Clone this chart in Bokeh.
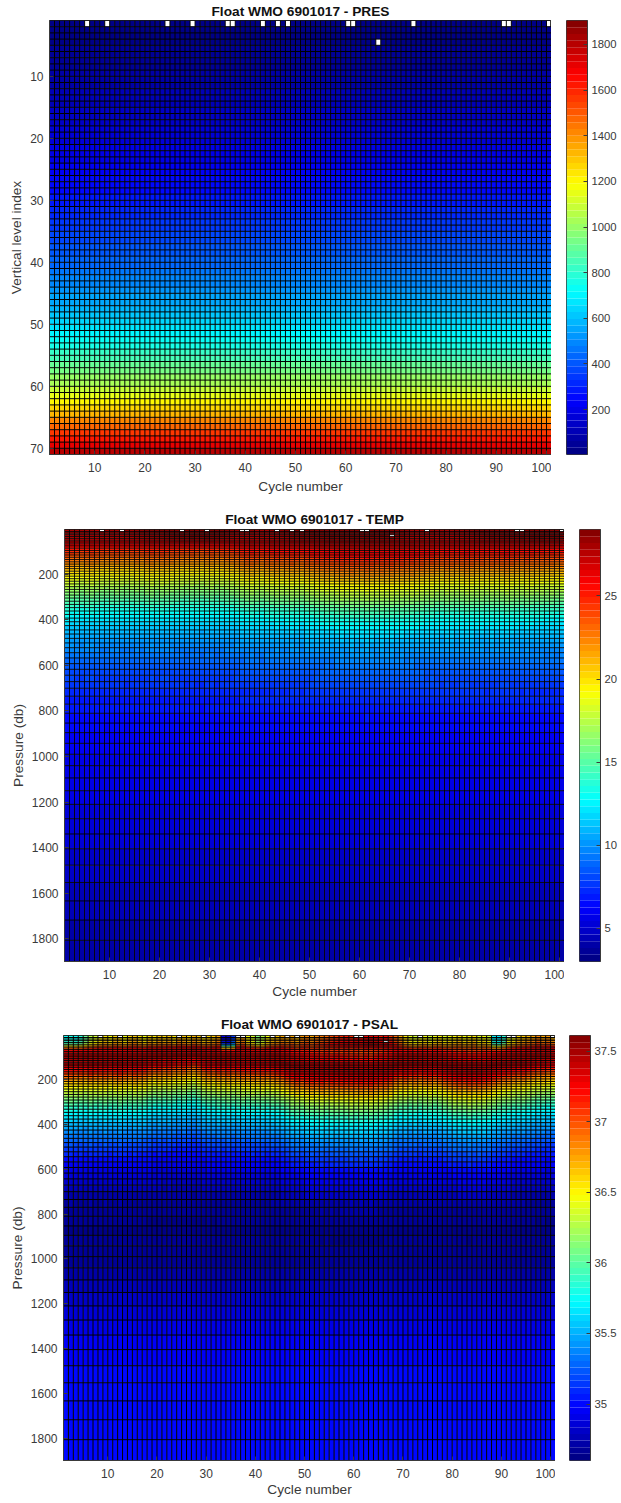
import numpy as np
from bokeh.embed import file_html
from bokeh.layouts import column, row
from bokeh.models import ColumnDataSource, FixedTicker, Range1d
from bokeh.plotting import figure
from bokeh.resources import INLINE

FONT = "Liberation Sans"
INK = "#3a3a3a"

CYCLE_TICKS = [10, 20, 30, 40, 50, 60, 70, 80, 90, 100]
LEVEL_TICKS = [10, 20, 30, 40, 50, 60, 70]
PRES_TICKS = [200, 400, 600, 800, 1000, 1200, 1400, 1600, 1800]
DEPTH_TICKS = [200, 400, 600, 800, 1000, 1200, 1400, 1600, 1800]
TEMP_TICKS = [5, 10, 15, 20, 25]
PSAL_TICKS = [35, 35.5, 36, 36.5, 37, 37.5]
PSAL_LABELS = {35: "35", 35.5: "35.5", 36: "36", 36.5: "36.5", 37: "37", 37.5: "37.5"}

# pressure (db) of each vertical level
PRES_DB = [3, 12, 19, 26, 34, 42, 50, 58, 66, 75,
           85, 95, 105, 115, 125, 135, 145, 155, 165, 175,
           186, 197, 208, 219, 230, 242, 254, 266, 278, 291,
           304, 318, 332, 346, 361, 376, 392, 408, 425, 444,
           462, 481, 501, 522, 544, 567, 592, 617, 643, 671,
           700, 735, 770, 810, 853, 895, 942, 990, 1040, 1094,
           1150, 1210, 1273, 1340, 1405, 1477, 1553, 1634, 1718, 1807, 1900]

PROFILE_DB = [3, 5, 7, 9, 12, 15, 19, 24, 29, 35,
              42, 50, 58, 67, 76, 86, 96, 106, 117, 128,
              139, 150, 162, 174, 186, 198, 211, 224, 237, 251,
              265, 279, 294, 309, 325, 341, 358, 375, 393, 412,
              432, 453, 475, 498, 522, 548, 575, 603, 632, 665,
              700, 735, 770, 810, 853, 895, 942, 990, 1040, 1094,
              1150, 1210, 1273, 1340, 1405, 1477, 1553, 1634, 1718, 1807]

TEMP_MEAN = [28.6, 28.6, 28.5, 28.5, 28.4, 28.3, 28.2, 28.0, 27.9, 27.7,
             27.5, 27.2, 26.9, 26.5, 26.0, 25.6, 25.2, 24.7, 24.2, 23.7,
             23.2, 22.7, 22.1, 21.5, 20.9, 20.3, 19.6, 19.0, 18.4, 17.8,
             17.2, 16.6, 16.0, 15.4, 14.8, 14.2, 13.6, 13.1, 12.6, 12.1,
             11.6, 11.1, 10.6, 10.2, 9.8, 9.4, 9.0, 8.6, 8.2, 7.8,
             7.4, 7.1, 6.8, 6.5, 6.3, 6.1, 5.9, 5.8, 5.7, 5.6,
             5.5, 5.3, 5.2, 5.1, 5.0, 4.8, 4.6, 4.4, 4.2, 4.0]

PSAL_MEAN = [36.55, 36.55, 36.55, 36.55, 36.55, 36.55, 36.6, 36.62, 36.68, 36.75,
             36.85, 37.05, 37.2, 37.3, 37.38, 37.42, 37.45, 37.47, 37.48, 37.45,
             37.4, 37.32, 37.22, 37.1, 36.97, 36.85, 36.72, 36.6, 36.5, 36.38,
             36.28, 36.18, 36.08, 35.98, 35.88, 35.78, 35.7, 35.62, 35.55, 35.47,
             35.4, 35.33, 35.26, 35.18, 35.1, 35.02, 34.96, 34.9, 34.85, 34.8,
             34.74, 34.7, 34.67, 34.65, 34.64, 34.65, 34.66, 34.69, 34.73, 34.77,
             34.82, 34.87, 34.91, 34.95, 34.97, 34.99, 35.0, 35.0, 35.01, 35.01]

# per cycle displacement (db) of the water column below the mixed layer
TEMP_SHIFT = [-10, -13, -16, -18, -14, -12, -17, -20, -22, -18,
              -16, -21, -23, -20, -17, -21, -16, -13, -18, -12,
              -14, -17, -20, -22, -25, -21, -23, -26, -22, -20,
              -25, -21, -18, -16, -13, -3, 1, 4, 0, -3,
              3, 5, 8, 4, 6, 10, 8, 5, 12, 14,
              18, 22, 25, 21, 26, 30, 27, 32, 29, 31,
              34, 30, 27, 32, 29, 31, 26, 29, 25, 27,
              23, 21, 16, 18, 13, 10, 14, 12, 9, 13,
              16, 12, 8, 10, 6, 12, 9, 13, 16, 10,
              8, 5, 9, 6, 3, 5, 1, 4, -1, 3]

PSAL_SHIFT = [-9, -6, -10, -8, -12, -4, -9, -8, -6, -10,
              -8, -4, -9, -12, -8, -10, -14, -21, -27, -24,
              -30, -26, -33, -36, -32, -39, -45, -36, -24, -18,
              -21, -14, -16, -12, -18, -15, -10, -14, -9, -12,
              -8, -10, -6, -3, 4, 12, 21, 27, 24, 30,
              34, 32, 38, 33, 39, 36, 40, 38, 42, 39,
              44, 40, 45, 39, 36, 33, 27, 15, 9, 12,
              6, 9, 4, 8, 10, 6, 12, 18, 24, 28,
              33, 30, 36, 32, 34, 30, 27, 18, 12, 6,
              3, -3, -6, -4, -10, -15, -21, -18, -24, -22]

# per cycle anomaly of the mixed layer
TEMP_SURF = [-0.6, -0.7, -0.5, -0.8, -0.6, -0.7, -0.9, -0.6, -0.8, -0.5,
             -0.7, -0.6, -0.4, -0.5, -0.3, -0.2, 0.0, 0.1, 0.2, 0.1,
             0.4, 0.6, 0.7, 0.8, 0.6, 0.9, 0.7, 0.8, 0.9, 0.6,
             0.5, 0.3, 0.1, -0.2, -0.4, -0.5, -0.6, -0.4, -0.7, -0.5,
             -0.6, -0.4, -0.3, -0.1, 0.0, 0.2, 0.3, 0.5, 0.6, 0.5,
             0.7, 0.6, 0.8, 0.9, 0.7, 1.0, 0.8, 0.9, 1.0, 0.8,
             0.9, 0.7, 0.6, 0.8, 0.5, 0.3, 0.1, -0.1, -0.3, -0.5,
             -0.6, -0.5, -0.7, -0.6, -0.8, -0.5, -0.7, -0.6, -0.4, -0.5,
             -0.3, -0.2, 0.0, 0.2, 0.3, 0.5, 0.4, 0.6, 0.7, 0.8,
             0.7, 0.9, 0.8, 1.0, 0.9, 1.0, 0.8, 0.9, 1.0, 0.8]

PSAL_SURF = [-0.8, -0.75, -0.8, -0.7, -0.5, -0.3, -0.2, -0.1, 0.0, -0.1,
             0.05, 0.0, -0.1, 0.05, 0.1, 0.0, -0.1, 0.05, 0.0, 0.1,
             0.05, 0.1, 0.0, 0.15, 0.1, 0.05, 0.15, 0.1, 0.0, 0.05,
             0.1, 0.2, -1.6, -1.7, -1.4, 0.1, 0.2, -0.1, -0.2, -0.4,
             -0.3, -0.1, 0.05, 0.1, 0.2, 0.15, 0.2, 0.1, 0.25, 0.3,
             0.2, 0.3, 0.35, 0.4, 0.45, 0.5, 0.55, 0.6, 0.55, 0.65,
             0.6, 0.7, 0.75, 0.7, 0.6, 0.65, 0.5, 0.4, 0.2, 0.0,
             -0.15, -0.2, -0.15, -0.1, -0.2, -0.1, -0.05, -0.15, -0.1, -0.05,
             0.0, -0.1, -0.05, 0.0, -0.15, -0.1, -0.2, -0.85, -0.9, -0.7,
             -0.2, -0.1, 0.05, 0.1, 0.15, 0.2, 0.3, 0.2, 0.25, 0.15]

# cells without data
MISSING_TOP_CYCLES = [8, 12, 24, 29, 36, 37, 43, 46, 48, 60, 61, 73, 91, 92, 100]
MISSING_DEEP_CYCLE = 66
MISSING_DEEP_LEVEL = 4

PRES_LIM = (3, 1905)
TEMP_LIM = (3.0, 29.0)
PSAL_LIM = (34.6, 37.61)

TITLES = ["Float WMO 6901017 - PRES", "Float WMO 6901017 - TEMP", "Float WMO 6901017 - PSAL"]


def jet(n=64):
    out = []
    for i in range(n):
        x = (i + 0.5) / n
        r = np.clip(min(4 * x - 1.5, -4 * x + 4.5), 0, 1)
        g = np.clip(min(4 * x - 0.5, -4 * x + 3.5), 0, 1)
        b = np.clip(min(4 * x + 0.5, -4 * x + 2.5), 0, 1)
        out.append("#%02x%02x%02x" % (int(r * 255), int(g * 255), int(b * 255)))
    return out


JET = jet()
P = np.array(PRES_DB, float)


def colours(values, lim):
    idx = np.floor((values - lim[0]) / (lim[1] - lim[0]) * 64).astype(int)
    return np.clip(idx, 0, 63)


def field(mean, shift, surf):
    pc = P[:-1]
    shallow = np.clip((70 - pc) / 35, 0, 1)
    band = np.clip((pc - 40) / 60, 0, 1) * np.clip((1000 - pc) / 300, 0, 1)
    z = np.zeros((100, 70))
    for c in range(100):
        z[c] = np.interp(pc - shift[c] * band, PROFILE_DB, mean) + surf[c] * shallow
    return z


def panel(values, lim, ys, title, ylab, ticks, left, top, bottom, fw, fh, lw, la, title_gap, xlab_gap):
    cols = np.repeat(np.arange(1, 101), 70)
    rows = np.tile(np.arange(70), 100)
    mask = np.ones(7000, bool)
    for m in MISSING_TOP_CYCLES:
        mask[(m - 1) * 70] = False
    mask[(MISSING_DEEP_CYCLE - 1) * 70 + MISSING_DEEP_LEVEL - 1] = False
    idx = colours(values.ravel(), lim)
    src = ColumnDataSource(dict(
        l=cols[mask], r=cols[mask] + 1,
        t=ys[:-1][rows[mask]], b=ys[1:][rows[mask]],
        c=[JET[i] for i in idx[mask]]))
    p = figure(output_backend="svg", toolbar_location=None,
               width=left + fw, height=top + fh + bottom,
               frame_width=fw, frame_height=fh,
               min_border_left=left, min_border_right=0,
               min_border_top=top, min_border_bottom=bottom,
               x_range=Range1d(1, 101), y_range=Range1d(ys[-1], ys[0]),
               title=title)
    p.quad(left="l", right="r", top="t", bottom="b", fill_color="c",
           line_color=None, source=src)
    xs_v = [[float(x), float(x)] for x in range(1, 102)]
    ys_v = [[float(ys[0]), float(ys[-1])] for _ in range(101)]
    xs_h = [[1.0, 101.0] for _ in ys]
    ys_h = [[float(y), float(y)] for y in ys]
    p.multi_line(xs_v + xs_h, ys_v + ys_h, line_color="black", line_width=lw, line_alpha=la)
    p.grid.visible = False
    p.title.align = "center"
    p.title.text_font = FONT
    p.title.text_font_style = "bold"
    p.title.text_font_size = "13.7px"
    p.title.text_color = "#111111"
    p.title.standoff = title_gap
    p.title.offset = -2
    p.outline_line_color = INK
    p.xaxis.ticker = FixedTicker(ticks=CYCLE_TICKS)
    p.yaxis.ticker = FixedTicker(ticks=ticks)
    for ax in (p.xaxis[0], p.yaxis[0]):
        ax.major_tick_in = 4
        ax.major_tick_out = 0
        ax.minor_tick_line_color = None
        ax.axis_line_color = INK
        ax.major_tick_line_color = INK
        ax.major_label_text_font = FONT
        ax.major_label_text_font_size = "12px"
        ax.major_label_text_color = INK
        ax.axis_label_text_font = FONT
        ax.axis_label_text_font_size = "13.7px"
        ax.axis_label_text_font_style = "normal"
        ax.axis_label_text_color = INK
    p.xaxis[0].axis_label_standoff = xlab_gap
    p.yaxis[0].axis_label_standoff = 3
    p.xaxis[0].major_label_standoff = 8
    p.yaxis[0].major_label_standoff = 6
    p.xaxis.axis_label = "Cycle number"
    p.yaxis.axis_label = ylab
    return p


def bar(lim, ticks, title_top, fh, bottom, left, right, labels=None):
    edges = np.linspace(lim[0], lim[1], 65)
    src = ColumnDataSource(dict(b=edges[:-1], t=edges[1:], c=JET))
    p = figure(output_backend="svg", toolbar_location=None,
               width=left + 21 + right, height=title_top + fh + bottom,
               frame_width=21, frame_height=fh,
               min_border_left=left, min_border_right=right,
               min_border_top=title_top, min_border_bottom=bottom,
               x_range=Range1d(0, 1), y_range=Range1d(lim[0], lim[1]),
               y_axis_location="right")
    p.quad(left=0, right=1, bottom="b", top="t", fill_color="c", line_color=None, source=src)
    p.grid.visible = False
    p.xaxis.visible = False
    p.outline_line_color = INK
    ax = p.yaxis[0]
    ax.ticker = FixedTicker(ticks=ticks)
    ax.major_tick_in = 4
    ax.major_tick_out = 0
    ax.minor_tick_line_color = None
    ax.axis_line_color = INK
    ax.major_tick_line_color = INK
    ax.major_label_text_font = FONT
    ax.major_label_text_font_size = "11.3px"
    ax.major_label_text_color = INK
    ax.major_label_standoff = 4
    if labels:
        ax.major_label_overrides = labels
    return p


levels = np.arange(1, 72, dtype=float)
pres_vals = np.tile(P[:-1], (100, 1))
temp_vals = field(TEMP_MEAN, TEMP_SHIFT, TEMP_SURF)
psal_vals = field(PSAL_MEAN, PSAL_SHIFT, PSAL_SURF)

p1 = panel(pres_vals, PRES_LIM, levels, TITLES[0], "Vertical level index", LEVEL_TICKS,
           49, 20, 50, 502, 434, 1.0, 1.0, 3, 4)
c1 = bar(PRES_LIM, PRES_TICKS, 20, 434, 50, 15, 32)
p2 = panel(temp_vals, TEMP_LIM, P, TITLES[1], "Pressure (db)", DEPTH_TICKS,
           64, 25, 48, 500, 432, 1.0, 0.9, 6, 2)
c2 = bar(TEMP_LIM, TEMP_TICKS, 25, 432, 48, 15, 19)
p3 = panel(psal_vals, PSAL_LIM, P, TITLES[2], "Pressure (db)", DEPTH_TICKS,
           63, 26, 34, 492, 425, 1.0, 1.0, 7, 1)
c3 = bar(PSAL_LIM, PSAL_TICKS, 26, 425, 34, 14, 29, PSAL_LABELS)

page = column(row(p1, c1, spacing=0), row(p2, c2, spacing=0), row(p3, c3, spacing=0), spacing=0)
open("out.html", "w").write(file_html(page, INLINE))
